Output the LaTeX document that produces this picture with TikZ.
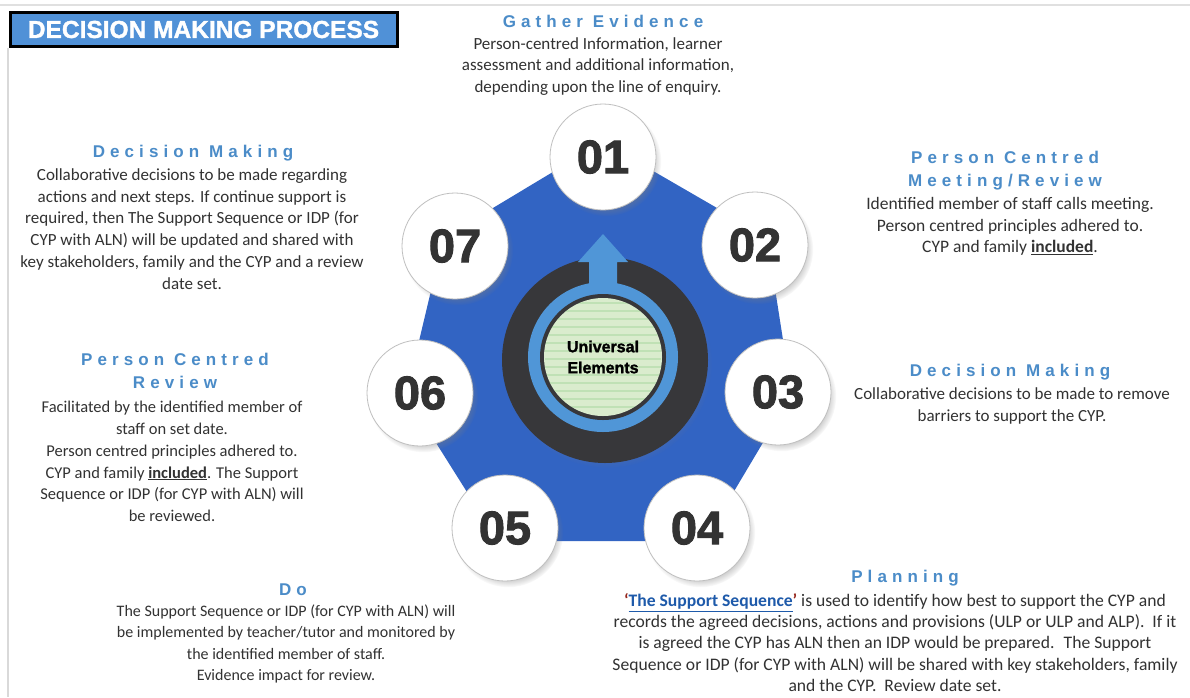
\documentclass[tikz,border=0pt]{standalone}
\usepackage{fontspec}
\setmainfont{Carlito}
\newfontfamily\headfont{Liberation Sans}[LetterSpace=30]
\newfontfamily\numfont{Liberation Sans}[BoldFeatures={FakeBold=2}]
\newfontfamily\boxfont{Liberation Sans}[BoldFeatures={FakeBold=1.5}]
\usetikzlibrary{positioning,shadows}
\definecolor{titleblue}{RGB}{80,145,215}
\definecolor{ringblue}{RGB}{50,100,195}
\definecolor{ringlight}{RGB}{80,150,215}
\definecolor{darkcore}{RGB}{55,55,58}
\definecolor{discgreen}{RGB}{218,236,205}
\definecolor{headblue}{RGB}{75,140,200}
\definecolor{bodygray}{RGB}{50,50,50}
\definecolor{numgray}{RGB}{51,51,51}
\definecolor{linkblue}{RGB}{30,90,170}
\definecolor{quotered}{RGB}{150,40,30}
\begin{document}
\begin{tikzpicture}[x=1pt,y=-1pt,
numcirc/.style={circle, fill=white, draw=black!25, line width=0.8pt, minimum size=106pt, inner sep=0pt, text=numgray, font=\numfont\bfseries\fontsize{47}{47}\selectfont, circular drop shadow={shadow scale=1.04, shadow xshift=3pt, shadow yshift=-4pt, opacity=.4}},
head/.style={inner sep=0pt, align=center, text=headblue, font=\headfont\bfseries\fontsize{17}{23}\selectfont},
body/.style={inner sep=0pt, align=center, text=bodygray, font=\fontsize{17}{21.7}\selectfont}]
\useasboundingbox[fill=white] (0,0) rectangle (1190,697);
\draw[black!12, line width=2pt] (0,5) -- (1190,5);
\draw[black!15, line width=1.5pt] (8,48) -- (8,697);
\node[draw=black, line width=3pt, fill=titleblue, minimum width=387pt, minimum height=34pt, inner sep=0pt, text=white, font=\boxfont\bfseries\fontsize{24.5}{24.5}\selectfont] (title) at (203.5,29.5) {DECISION MAKING PROCESS};
\coordinate (p1) at (603,157);
\coordinate (p2) at (755,245);
\coordinate (p3) at (778,392);
\coordinate (p4) at (697,528);
\coordinate (p5) at (505,528);
\coordinate (p6) at (420,393);
\coordinate (p7) at (455,246);
\filldraw[ringblue, line width=26pt, line join=round] (p1) -- (p2) -- (p3) -- (p4) -- (p5) -- (p6) -- (p7) -- cycle;
\node[circle, fill=darkcore, minimum size=206pt, inner sep=0pt, circular drop shadow={shadow scale=1.02, shadow xshift=2pt, shadow yshift=-3pt, opacity=.3}] (core) at (605,360) {};
\fill[ringlight] (589,292) -- (589,262) -- (578,262) -- (603,234) -- (628,262) -- (617,262) -- (617,292) -- cycle;
\node[circle, fill=ringlight, minimum size=150pt, inner sep=0pt] (ring) at (603,357) {};
\node[circle, fill=darkcore, minimum size=126pt, inner sep=0pt] (rim) at (603,357) {};
\node[circle, fill=discgreen, minimum size=118pt, inner sep=0pt] (disc) at (603,357) {};
\begin{scope}
\clip (603,357) circle (59);
\foreach \yy in {303,311,...,411}
\draw[green!40!gray, opacity=.18, line width=2pt] (545,\yy) -- (661,\yy);
\end{scope}
\node[inner sep=0pt, align=center, font=\boxfont\bfseries\fontsize{16}{21}\selectfont] (hub) at (603,357) {Universal\\Elements};
\node[numcirc] (n1) at (p1) {01};
\node[numcirc] (n2) at (p2) {02};
\node[numcirc] (n3) at (p3) {03};
\node[numcirc] (n4) at (p4) {04};
\node[numcirc] (n5) at (p5) {05};
\node[numcirc] (n6) at (p6) {06};
\node[numcirc] (n7) at (p7) {07};
\node[head] (h1) at (603,21) {Gather Evidence};
\node[body] (b1) at (598,66.5) {Person-centred Information, learner\\assessment and additional information,\\depending upon the line of enquiry.};
\node[head] (h2) at (1005,171) {Person Centred\\Meeting/Review};
\node[body, font=\fontsize{17.5}{21.7}\selectfont] (b2) at (1010,226.5) {Identified member of staff calls meeting.\\Person centred principles adhered to.\\CYP and family \textbf{\underline{included}}.};
\node[head] (h3) at (1010,372) {Decision Making};
\node[body] (b3) at (1012,406) {Collaborative decisions to be made to remove\\barriers to support the CYP.};
\node[head] (h4) at (905,578) {Planning};
\node[body, font=\fontsize{17.6}{21.2}\selectfont] (b4) at (895,642.5) {\textcolor{quotered}{\textbf{‘}}\textcolor{linkblue}{\textbf{\underline{The Support Sequence}}}\textcolor{quotered}{\textbf{’}} is used to identify how best to support the CYP and\\records the agreed decisions, actions and provisions (ULP or ULP and ALP).~ If it\\is agreed the CYP has ALN then an IDP would be prepared.~ The Support\\Sequence or IDP (for CYP with ALN) will be shared with key stakeholders, family\\and the CYP.~ Review date set.};
\node[head] (h5) at (293,590) {Do};
\node[body, font=\fontsize{16}{21.5}\selectfont] (b5) at (286,644) {The Support Sequence or IDP (for CYP with ALN) will\\be implemented by teacher/tutor and monitored by\\the identified member of staff.\\Evidence impact for review.};
\node[head] (h6) at (175,371) {Person Centred\\Review};
\node[body, font=\fontsize{16.5}{21.7}\selectfont] (b6) at (172,461.5) {Facilitated by the identified member of\\staff on set date.\\Person centred principles adhered to.\\CYP and family \textbf{\underline{included}}. The Support\\Sequence or IDP (for CYP with ALN) will\\be reviewed.};
\node[head] (h7) at (193,153) {Decision Making};
\node[body] (b7) at (192,229) {Collaborative decisions to be made regarding\\actions and next steps. If continue support is\\required, then The Support Sequence or IDP (for\\CYP with ALN) will be updated and shared with\\key stakeholders, family and the CYP and a review\\date set.};
\end{tikzpicture}
\end{document}
